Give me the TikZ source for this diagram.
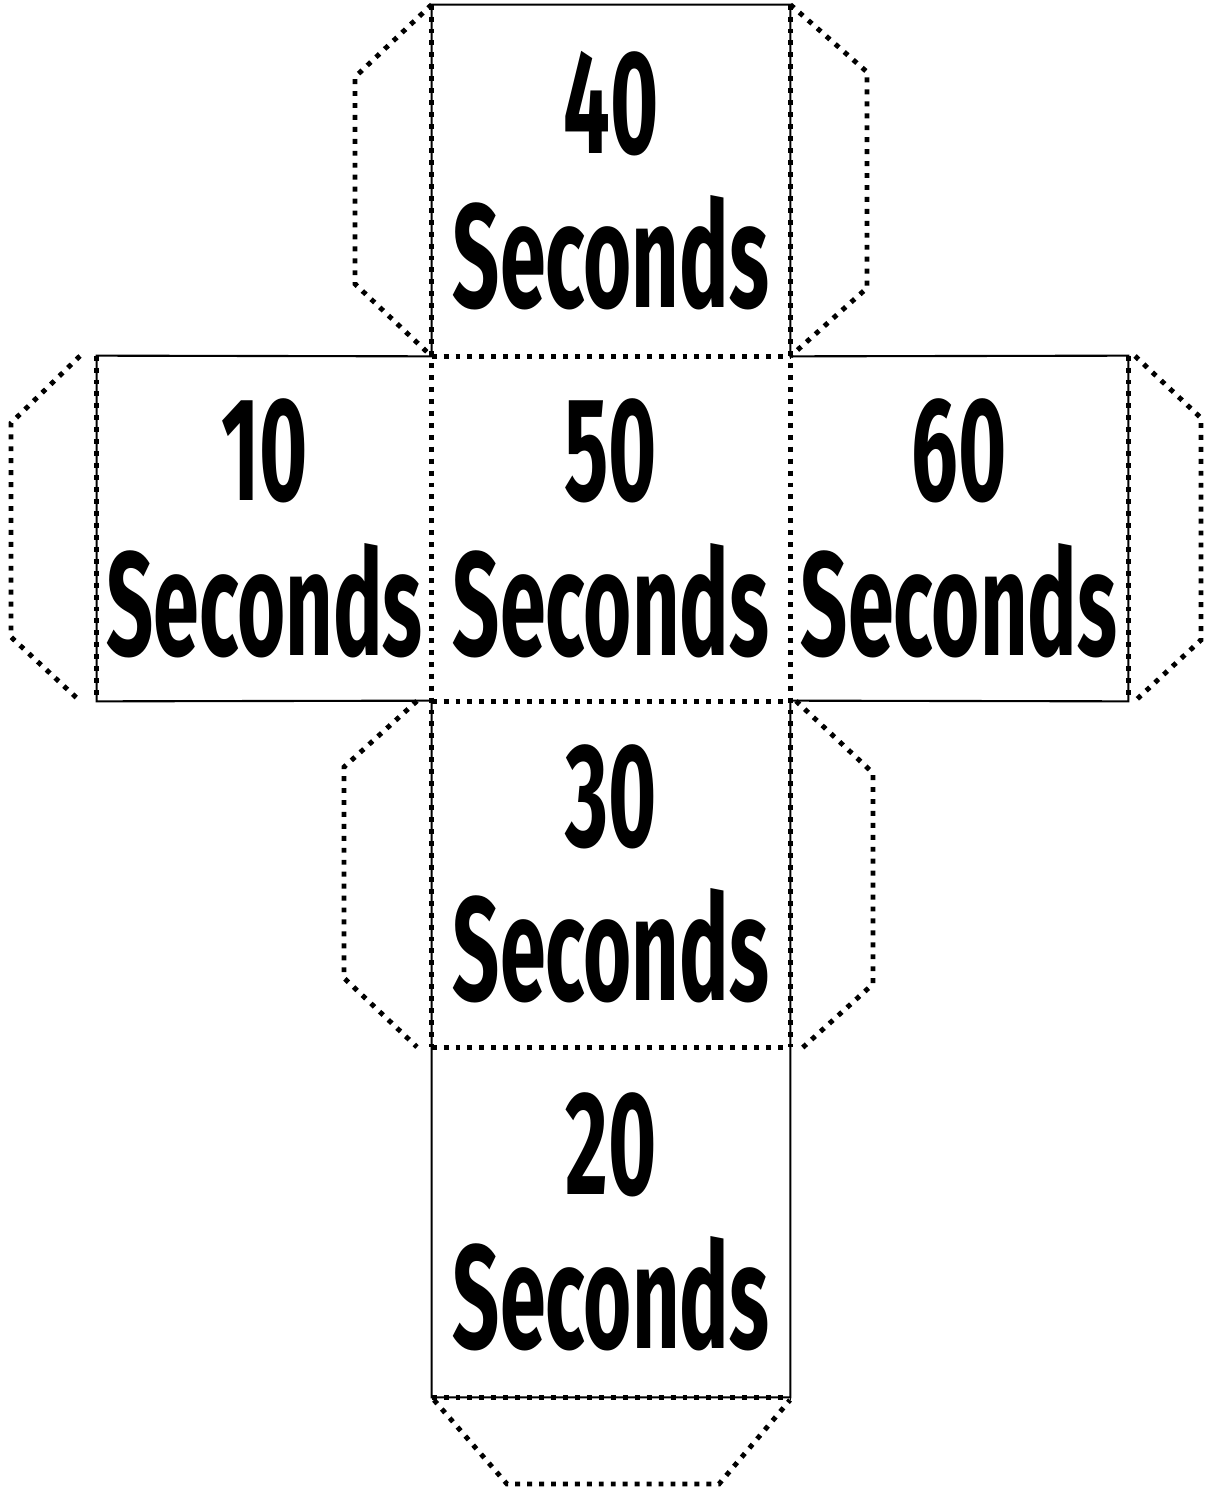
\documentclass[tikz,border=0pt]{standalone}
\usepackage{fontspec}
\newfontfamily\facefont[FakeStretch=0.56]{Fira Sans}

\begin{document}
\begin{tikzpicture}[x=0.02cm,y=-0.02cm,
    face/.style={inner sep=0pt,align=center,font=\facefont\bfseries\fontsize{84}{88}\selectfont},
    cut/.style={line width=1.2pt},
    fold/.style={line width=2.8pt,dash pattern=on 2.8pt off 4pt}]
  \useasboundingbox (0,0) rectangle (1204,1487);
  % the six faces of the cube
  \foreach \n/\x/\y/\w/\h in {
    40/611/180.5/358/351,
    10/264.5/528.5/335/345,
    50/611/528.5/358/345,
    60/959/528.5/338/345,
    30/611/874/358/346,
    20/611/1222/358/350}
  {
    \node[face,minimum width=\w*0.02cm,minimum height=\h*0.02cm] (f\n) at (\x,\y) {\n\\Seconds};
  }
  % outline
  \draw[cut] (f40.north west) -- (f40.north east) -- (f40.south east) -- (f60.north east)
    -- (f60.south east) -- (f30.north east) -- (f20.south east) -- (f20.south west)
    -- (f30.north west) -- (f10.south west) -- (f10.north west) -- (f40.south west) -- cycle;
  % folds
  \draw[fold] (f40.north west) -- (f30.south west);
  \draw[fold] (f40.north east) -- (f30.south east);
  \foreach \f in {f40,f50,f30,f20}
    \draw[fold] (\f.south west) -- (\f.south east);
  \draw[fold] (f10.north west) -- (f10.south west);
  \draw[fold] (f60.north east) -- (f60.south east);
  % glue flaps
  \draw[fold] (f40.north west) -- (355,77) -- (355,284) -- (f40.south west);
  \draw[fold] (f40.north east) -- (867,72) -- (867,288) -- (f40.south east);
  \draw[fold] (80,356) -- (11,423) -- (11,637) -- (80,701);
  \draw[fold] (1135,356) -- (1201,418) -- (1201,640) -- (1135,701);
  \draw[fold] (417,701) -- (344,767) -- (344,978) -- (417,1047);
  \draw[fold] (796,701) -- (873,773) -- (873,984) -- (800,1050);
  \draw[fold] (434,1400) -- (507,1484) -- (719,1484) -- (790,1400);
\end{tikzpicture}
\end{document}
